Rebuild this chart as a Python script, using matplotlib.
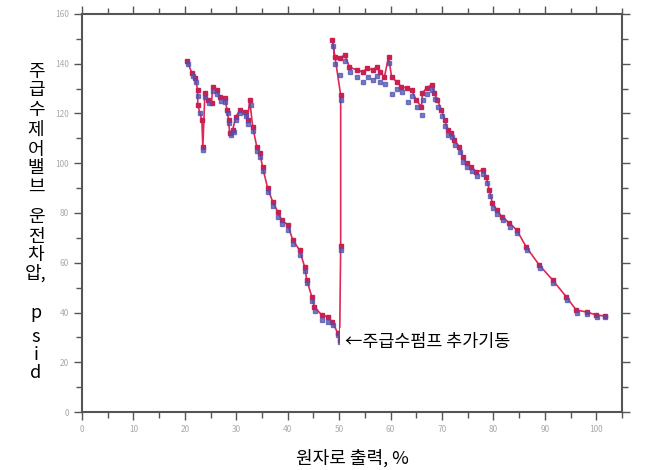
import numpy as np
import matplotlib.pyplot as plt
from matplotlib.ticker import MultipleLocator

plt.rcParams['font.family'] = ['Noto Sans CJK KR', 'DejaVu Sans']

# red series (power %, dP psid), in time order
red_x = [20.4, 21.4, 22.0, 22.5, 22.5, 23.3, 23.5, 23.9, 24.5, 25.2, 25.4, 26.2, 26.8,
         27.8, 28.2, 28.5, 28.7, 29.3, 29.9, 30.7, 31.7, 32.2, 32.6, 33.2, 34.0, 34.6,
         35.1, 36.1, 37.1, 38.1, 38.8, 40.0, 41.0, 42.3, 43.3, 43.7, 44.7, 45.2, 46.6,
         47.8, 48.7, 49.7, 50.1, 50.3, 50.3,
         48.7, 49.1, 50.1, 51.1, 52.0, 53.4, 54.6, 55.5, 56.5, 57.3, 57.9, 58.8, 59.6,
         60.2, 61.2, 62.1, 63.1, 64.1, 65.0, 66.0, 66.2, 67.0, 68.0, 68.5, 69.1, 69.9,
         70.5, 71.1, 71.8, 72.4, 73.4, 74.0, 74.8, 75.7, 76.7, 77.9, 78.6, 79.2, 79.8,
         80.6, 81.7, 83.1, 84.5, 86.4, 88.9, 91.5, 94.2, 96.1, 98.1, 100.0, 101.6]
red_y = [141.1, 136.2, 134.3, 129.5, 123.5, 117.4, 106.5, 128.2, 125.4, 124.2, 130.7, 129.4, 126.6,
         126.2, 121.4, 117.4, 112.2, 113.4, 118.6, 121.4, 120.6, 117.4, 125.4, 114.6, 106.5, 104.1,
         98.5, 90.0, 84.4, 80.4, 77.2, 75.2, 69.1, 65.1, 58.3, 53.1, 46.2, 42.2, 39.0,
         38.2, 36.2, 31.8, 28.9, 66.7, 127.4,
         149.5, 142.7, 142.3, 143.5, 138.7, 137.5, 136.7, 138.3, 137.5, 138.7, 136.7, 134.7, 142.7,
         134.7, 132.7, 130.7, 130.3, 129.4, 125.4, 122.6, 128.2, 130.3, 131.5, 128.2, 125.4, 121.4,
         117.4, 113.4, 112.2, 109.3, 106.5, 102.5, 100.1, 98.5, 96.5, 97.3, 94.5, 89.2, 84.0,
         81.2, 78.4, 76.0, 73.2, 66.3, 59.1, 53.1, 46.2, 41.0, 40.2, 39.0, 38.6]

# blue series
blue_x = [20.6, 21.5, 22.2, 22.6, 23.0, 23.5, 24.0, 24.7, 25.4, 26.3, 27.0, 27.9, 28.3,
          28.6, 28.9, 29.5, 30.0, 30.8, 31.8, 32.3, 32.8, 33.3, 34.1, 34.7, 35.2, 36.2,
          37.2, 38.2, 38.9, 40.1, 41.1, 42.4, 43.4, 43.8, 44.8, 45.3, 46.7, 47.9, 48.8,
          49.7, 50.2, 50.3, 50.3,
          48.8, 49.2, 50.2, 51.2, 52.1, 53.5, 54.7, 55.6, 56.6, 57.4, 58.0, 58.9, 59.7,
          60.3, 61.3, 62.2, 63.3, 64.2, 65.1, 66.1, 66.3, 67.1, 68.1, 68.6, 69.2, 70.0,
          70.6, 71.2, 71.9, 72.5, 73.5, 74.1, 74.9, 75.8, 76.8, 78.0, 78.7, 79.3, 79.9,
          80.7, 81.8, 83.2, 84.6, 86.5, 89.0, 91.6, 94.3, 96.2, 98.2, 100.1, 101.7]
blue_y = [140.0, 135.2, 132.8, 127.0, 120.0, 105.2, 126.8, 124.2, 129.0, 128.0, 125.2, 124.8, 120.0,
          116.0, 111.2, 112.5, 117.2, 120.2, 118.8, 115.8, 123.5, 113.0, 105.0, 102.5, 97.0, 88.5,
          82.8, 78.5, 75.5, 73.0, 67.5, 63.2, 56.8, 51.8, 44.8, 40.5, 37.0, 36.0, 34.8,
          31.0, 28.0, 65.0, 125.5,
          147.0, 140.0, 135.5, 141.0, 136.5, 134.5, 132.5, 134.8, 133.5, 135.0, 132.5, 132.0, 140.5,
          128.0, 130.0, 128.5, 124.5, 127.0, 122.5, 119.5, 125.5, 128.0, 129.5, 125.8, 122.5, 119.0,
          115.0, 111.5, 110.5, 107.5, 104.5, 100.5, 98.5, 97.0, 94.8, 95.5, 92.2, 86.8, 82.0,
          79.5, 77.0, 74.5, 71.8, 65.2, 58.0, 52.0, 45.2, 40.0, 39.2, 38.2, 38.0]

ylabel_chars = ['주', '급', '수', '제', '어', '밸', '브', '운', '전', '차', '압,', 'p', 's', 'i', 'd']
ylabel_rows = [72, 90, 110, 130, 150, 168, 187, 217, 237, 255, 273, 313, 337, 355, 373]

fig = plt.figure(figsize=(6.47, 4.70), dpi=100)
ax = fig.add_axes([82/647, 58/470, 540/647, 398/470])

ax.plot(red_x, red_y, color='#e02858', lw=1.2, marker='s', ms=3.5, mec='#c82050', mfc='#c82050', zorder=3)
ax.plot(blue_x, blue_y, ls='none', marker='s', ms=3, color='#5050b0', alpha=0.75, zorder=4)

ax.set_xlim(0, 105)
ax.set_ylim(0, 160)
ax.xaxis.set_major_locator(MultipleLocator(10))
ax.xaxis.set_minor_locator(MultipleLocator(5))
ax.yaxis.set_major_locator(MultipleLocator(20))
ax.yaxis.set_minor_locator(MultipleLocator(10))
ax.tick_params(which='both', direction='out', colors='#555555', labelcolor='#aaaaaa',
               labelsize=6, width=1.0, top=True, right=True)
ax.tick_params(which='major', length=6)
ax.tick_params(which='minor', length=4)
for s in ax.spines.values():
    s.set_color('#555555')
    s.set_linewidth(1.5)

ax.text(51.2, 28.1, '←주급수펌프 추가기동', fontsize=12.5, va='center', ha='left',
        bbox=dict(facecolor='white', edgecolor='none', pad=4), zorder=5)

fig.text(352/647, 1 - 458/470, '원자로 출력, %', fontsize=13, ha='center', va='center')
for ch, yy in zip(ylabel_chars, ylabel_rows):
    fig.text(36/647, 1 - yy/470, ch, fontsize=13, ha='center', va='center')

fig.savefig('out.png', dpi=100)
